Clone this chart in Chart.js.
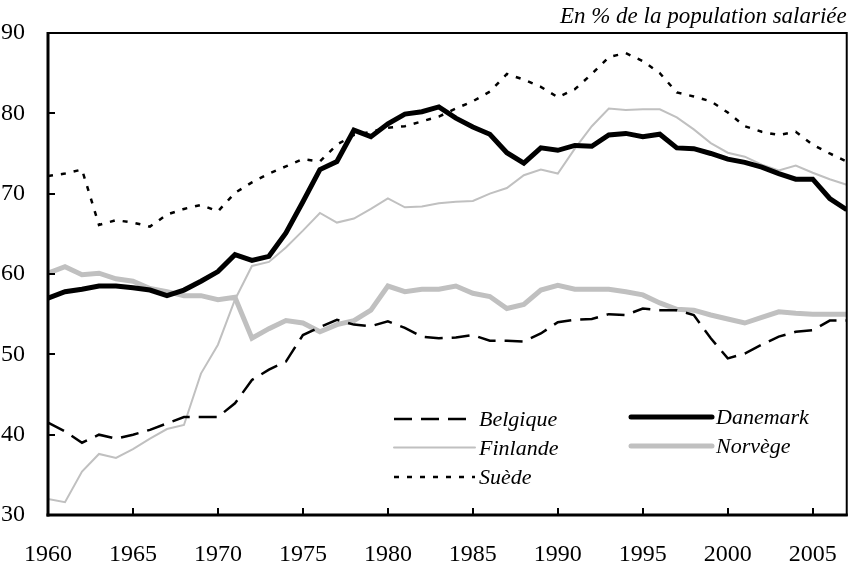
<!DOCTYPE html>
<html>
<head>
<meta charset="utf-8">
<script src="https://cdn.jsdelivr.net/npm/chart.js@4.4.1/dist/chart.umd.min.js"></script>
<style>
  body { margin: 0; background: #fff; }
</style>
</head>
<body>
<canvas id="chart" width="854" height="565"></canvas>
<script>
// Taux de syndicalisation, en % de la population salariée

const years = [
  1960, 1961, 1962, 1963, 1964, 1965, 1966, 1967, 1968, 1969,
  1970, 1971, 1972, 1973, 1974, 1975, 1976, 1977, 1978, 1979,
  1980, 1981, 1982, 1983, 1984, 1985, 1986, 1987, 1988, 1989,
  1990, 1991, 1992, 1993, 1994, 1995, 1996, 1997, 1998, 1999,
  2000, 2001, 2002, 2003, 2004, 2005, 2006, 2007,
];

const belgique = [
  41.5, 40.4, 39.0, 40.0, 39.5, 40.0, 40.6, 41.4, 42.2, 42.2,
  42.2, 43.9, 46.8, 48.1, 49.1, 52.4, 53.4, 54.3, 53.7, 53.5,
  54.1, 53.3, 52.2, 52.0, 52.1, 52.4, 51.7, 51.7, 51.6, 52.6,
  54.0, 54.3, 54.4, 55.0, 54.9, 55.7, 55.5, 55.5, 54.9, 52.0,
  49.5, 50.1, 51.2, 52.2, 52.8, 53.0, 54.2, 54.2,
];

const danemark = [
  57.0, 57.8, 58.1, 58.5, 58.5, 58.3, 58.0, 57.3, 58.0, 59.1,
  60.3, 62.4, 61.7, 62.2, 65.1, 69.0, 73.0, 74.0, 77.9, 77.1,
  78.7, 79.9, 80.2, 80.8, 79.4, 78.3, 77.4, 75.1, 73.8, 75.7,
  75.4, 76.0, 75.9, 77.3, 77.5, 77.1, 77.4, 75.7, 75.6, 75.0,
  74.3, 73.9, 73.3, 72.5, 71.8, 71.8, 69.4, 68.0,
];

const finlande = [
  32.0, 31.6, 35.4, 37.6, 37.1, 38.2, 39.5, 40.7, 41.2, 47.6,
  51.2, 56.8, 61.0, 61.5, 63.3, 65.4, 67.6, 66.4, 66.9, 68.1,
  69.4, 68.3, 68.4, 68.8, 69.0, 69.1, 70.0, 70.7, 72.3, 73.0,
  72.5, 75.6, 78.4, 80.6, 80.4, 80.5, 80.5, 79.5, 78.0, 76.3,
  75.1, 74.6, 73.6, 72.9, 73.5, 72.6, 71.8, 71.1,
];

const norvege = [
  60.1, 60.9, 59.9, 60.1, 59.4, 59.1, 58.2, 57.8, 57.3, 57.3,
  56.8, 57.1, 52.0, 53.2, 54.2, 53.9, 52.8, 53.7, 54.2, 55.5,
  58.5, 57.8, 58.1, 58.1, 58.5, 57.6, 57.2, 55.7, 56.2, 58.0,
  58.6, 58.1, 58.1, 58.1, 57.8, 57.4, 56.4, 55.6, 55.5, 54.9,
  54.4, 53.9, 54.6, 55.3, 55.1, 55.0, 55.0, 55.0,
];

const suede = [
  72.2, 72.5, 73.0, 66.1, 66.7, 66.4, 65.9, 67.4, 68.1, 68.6,
  67.8, 70.1, 71.4, 72.5, 73.4, 74.3, 74.0, 76.1, 77.3, 77.7,
  78.2, 78.4, 79.0, 79.6, 80.6, 81.5, 82.7, 84.9, 84.2, 83.3,
  82.0, 83.0, 84.9, 87.0, 87.5, 86.5, 85.0, 82.6, 82.1, 81.5,
  80.1, 78.4, 77.7, 77.3, 77.7, 76.1, 75.0, 74.0,
];

const yTicks = [30, 40, 50, 60, 70, 80, 90];
const xTicks = [1960, 1965, 1970, 1975, 1980, 1985, 1990, 1995, 2000, 2005];
const unitLabel = "En % de la population salariée";

const FONT = '"Liberation Serif", "Times New Roman", Times, serif';
const GREY = "#c0c0c0";

function toPoints(values) {
  return values.map((v, i) => ({ x: years[i], y: v }));
}

// legend slots inside the plot (two columns)
const legendSlots = {
  Belgique: { x: 394, y: 419 },
  Danemark: { x: 631, y: 417 },
  Finlande: { x: 394, y: 447.5 },
  "Norvège": { x: 631, y: 446 },
  "Suède": { x: 394, y: 477 },
};

function strokeLine(ctx, x1, y1, x2, y2) {
  ctx.beginPath();
  ctx.moveTo(x1, y1);
  ctx.lineTo(x2, y2);
  ctx.stroke();
}

const framePlugin = {
  id: "frame",
  afterDatasetsDraw(chart) {
    const { ctx, chartArea: a, scales } = chart;
    ctx.save();
    ctx.strokeStyle = "#000";
    ctx.setLineDash([]);

    // tick marks pointing into the plot
    ctx.lineWidth = 2;
    yTicks.forEach((v) => {
      const y = Math.round(scales.y.getPixelForValue(v));
      strokeLine(ctx, a.left, y, a.left + 7, y);
    });
    xTicks.forEach((v) => {
      const x = Math.round(scales.x.getPixelForValue(v));
      strokeLine(ctx, x, a.bottom, x, a.bottom - 7);
    });

    // frame
    ctx.lineWidth = 2;
    ctx.strokeRect(a.left, a.top, a.right - a.left, a.bottom - a.top);
    ctx.lineWidth = 3;
    strokeLine(ctx, a.left, a.top - 1, a.left, a.bottom + 1.5);
    strokeLine(ctx, a.left - 1.5, a.bottom, a.right + 1, a.bottom);

    // unit label
    ctx.fillStyle = "#000";
    ctx.font = `italic 23px ${FONT}`;
    ctx.textAlign = "right";
    ctx.textBaseline = "alphabetic";
    ctx.fillText(unitLabel, a.right, 23);

    // legend
    ctx.font = `italic 22px ${FONT}`;
    ctx.textAlign = "left";
    chart.data.datasets.forEach((ds) => {
      const slot = legendSlots[ds.label];
      if (!slot) return;
      ctx.strokeStyle = ds.borderColor;
      ctx.lineWidth = ds.borderWidth;
      ctx.setLineDash(ds.borderDash || []);
      ctx.lineCap = ds.borderDash ? "butt" : "round";
      strokeLine(ctx, slot.x, slot.y, slot.x + 81, slot.y);
      ctx.setLineDash([]);
      ctx.fillText(ds.label, slot.x + 85, slot.y + 7);
    });
    ctx.restore();
  },
};

new Chart(document.getElementById("chart"), {
  type: "line",
  data: {
    datasets: [
      {
        label: "Belgique",
        data: toPoints(belgique),
        borderColor: "#000",
        borderWidth: 2.5,
        borderDash: [18, 9],
        order: 2,
      },
      {
        label: "Danemark",
        data: toPoints(danemark),
        borderColor: "#000",
        borderWidth: 5,
        order: 1,
      },
      {
        label: "Finlande",
        data: toPoints(finlande),
        borderColor: GREY,
        borderWidth: 2,
        order: 4,
      },
      {
        label: "Norvège",
        data: toPoints(norvege),
        borderColor: GREY,
        borderWidth: 5,
        order: 5,
      },
      {
        label: "Suède",
        data: toPoints(suede),
        borderColor: "#000",
        borderWidth: 2.5,
        borderDash: [5, 8],
        order: 3,
      },
    ],
  },
  options: {
    responsive: false,
    animation: false,
    layout: { padding: { top: 33, right: 6, left: 0, bottom: 0 } },
    elements: {
      point: { radius: 0 },
      line: { tension: 0, borderJoinStyle: "miter" },
    },
    plugins: {
      legend: { display: false },
      tooltip: { enabled: false },
    },
    scales: {
      x: {
        type: "linear",
        min: 1960,
        max: 2007,
        grid: { display: false },
        border: { display: false },
        afterFit(scale) {
          scale.height = 50;
        },
        afterBuildTicks(scale) {
          scale.ticks = xTicks.map((v) => ({ value: v }));
        },
        ticks: {
          autoSkip: false,
          maxRotation: 0,
          padding: 17,
          color: "#000",
          font: { family: FONT, size: 24 },
          callback: (v) => String(v),
        },
      },
      y: {
        min: 30,
        max: 90,
        grid: { display: false },
        border: { display: false },
        afterFit(scale) {
          scale.width = 48;
        },
        afterBuildTicks(scale) {
          scale.ticks = yTicks.map((v) => ({ value: v }));
        },
        ticks: {
          padding: 15,
          color: "#000",
          font: { family: FONT, size: 24 },
        },
      },
    },
  },
  plugins: [framePlugin],
});
</script>
</body>
</html>
